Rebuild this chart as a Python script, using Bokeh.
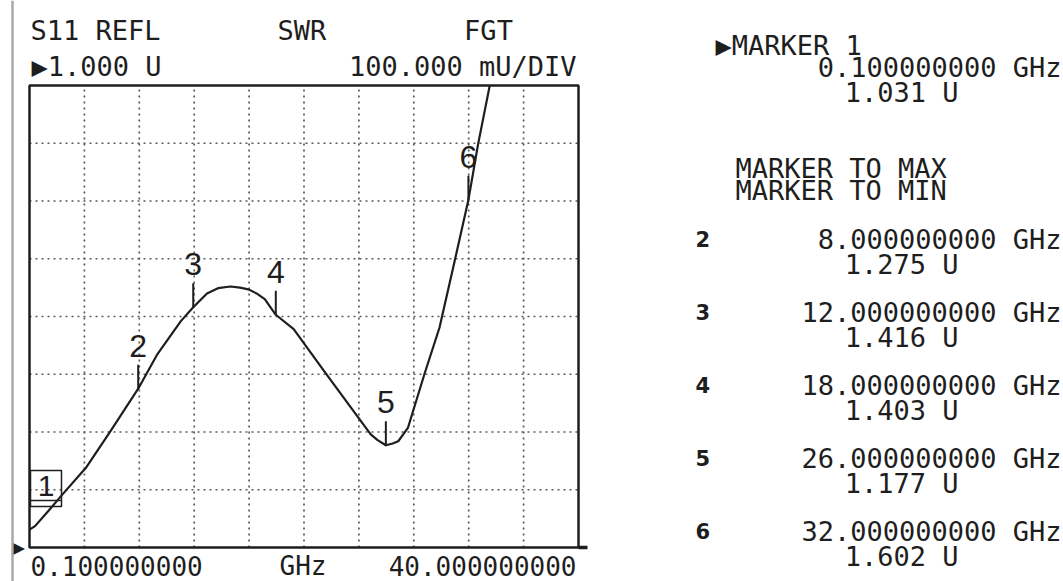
from bokeh.plotting import figure
from bokeh.models import Range1d, Label
from bokeh.core.properties import value
from bokeh.embed import file_html
from bokeh.resources import INLINE

freq_ghz = [0.1, 0.5, 1.5, 2.5, 4.2, 6.0, 8.0, 9.4, 11.1, 12.0, 13.0, 13.8,
            14.7, 15.4, 16.0, 16.6, 17.2, 18.0, 19.3, 21.5, 24.0, 24.9, 25.4,
            26.0, 26.5, 26.9, 27.6, 28.8, 29.9, 31.0, 32.0, 32.7, 33.55]
swr_u = [1.031, 1.037, 1.064, 1.092, 1.138, 1.202, 1.275, 1.335, 1.392, 1.416,
         1.440, 1.449, 1.452, 1.450, 1.447, 1.440, 1.430, 1.403, 1.378, 1.306,
         1.225, 1.196, 1.186, 1.177, 1.180, 1.184, 1.207, 1.300, 1.381, 1.496,
         1.602, 1.698, 1.800]

marker_ids = ["1", "2", "3", "4", "5", "6"]
marker_freq = [0.1, 8.0, 12.0, 18.0, 26.0, 32.0]
marker_swr = [1.031, 1.275, 1.416, 1.403, 1.177, 1.602]

start_ghz, stop_ghz = 0.1, 40.0
ref_u, u_per_div = 1.0, 0.1
n_xdiv, n_ydiv = 10, 8

header_left = ["S11 REFL", "SWR", "FGT"]
ref_text = "\u25b61.000 U"
scale_text = "100.000 mU/DIV"
start_text, unit_text, stop_text = "0.100000000", "GHz", "40.000000000"
panel_title = "\u25b6MARKER 1"
panel_funcs = ["MARKER TO MAX", "MARKER TO MIN"]

# ---------------- layout (reference pixel geometry) ----------------
W, H, M = 1063, 581, 0
FL, FR, FT, FB = 29, 578, 85, 547          # graticule box in page pixels
top_u = ref_u + u_per_div * n_ydiv
gpp = (stop_ghz - start_ghz) / (FR - FL)   # GHz per pixel
upp = (top_u - ref_u) / (FB - FT)          # U per pixel


def X(px):
    return start_ghz + (px - FL) * gpp


def Y(py):
    return ref_u + (FB - py) * upp


INK = "#1e1e1e"
GRID = "#5a5a5a"
MONO = "DejaVu Sans Mono"

p = figure(width=W, height=H, title=None,
           x_range=Range1d(X(M), X(M + W)), y_range=Range1d(Y(M + H), Y(M)),
           x_axis_location=None, y_axis_location=None,
           toolbar_location=None, output_backend="svg", min_border=0)
p.xgrid.visible = False
p.ygrid.visible = False
p.outline_line_color = None
p.background_fill_color = "white"
p.border_fill_color = "white"

# graticule (dotted divisions)
x_div = [start_ghz + k * (stop_ghz - start_ghz) / n_xdiv for k in range(1, n_xdiv)]
y_div = [ref_u + k * u_per_div for k in range(1, n_ydiv)]
p.segment(x0=x_div, y0=[ref_u] * len(x_div), x1=x_div, y1=[top_u] * len(x_div),
          line_color=GRID, line_width=1.7, line_dash="2 4")
p.segment(x0=[start_ghz] * len(y_div), y0=y_div, x1=[stop_ghz] * len(y_div), y1=y_div,
          line_color=GRID, line_width=1.7, line_dash="2 4")

# graticule border
p.quad(left=[start_ghz], right=[stop_ghz], bottom=[ref_u], top=[top_u],
       fill_color=None, line_color=INK, line_width=2.5)
# bottom line stub past the right edge
p.segment(x0=[stop_ghz], y0=[ref_u], x1=[stop_ghz + 9 * gpp], y1=[ref_u],
          line_color=INK, line_width=3.5)
# bezel line at the left of the screen
p.segment(x0=[X(12)], y0=[Y(M + H)], x1=[X(12)], y1=[Y(M)],
          line_color="#a8a8a8", line_width=2.5)

# trace
p.line(freq_ghz, swr_u, line_color=INK, line_width=2.2, line_join="round")

# markers 2..6 : tick + number
p.ray(x=marker_freq[1:], y=marker_swr[1:], length=24, length_units="screen",
      angle=90, angle_units="deg", line_color=INK, line_width=2)
p.text(x=marker_freq[1:], y=marker_swr[1:], text=marker_ids[1:],
       y_offset=-43, text_align="center", text_baseline="middle",
       text_font=value("Liberation Sans"), text_font_size="32px", text_color=INK)

# active marker 1 : boxed number
p.rect(x=[marker_freq[0] + 16.5 * gpp], y=[marker_swr[0] + 41 * upp],
       width=31, height=36, width_units="screen", height_units="screen",
       fill_color=None, line_color=INK, line_width=1.5)
p.segment(x0=[marker_freq[0] + 1 * gpp], y0=[marker_swr[0] + 29 * upp],
          x1=[marker_freq[0] + 32 * gpp], y1=[marker_swr[0] + 29 * upp],
          line_color=INK, line_width=1.5)
p.text(x=[marker_freq[0]], y=[marker_swr[0]], text=[marker_ids[0]],
       x_offset=16.5, y_offset=-44, text_align="center", text_baseline="middle",
       text_font=value("Liberation Sans"), text_font_size="30px", text_color=INK)


def lab(px, py, text, size="27px", align="left", font=MONO, style="normal",
        baseline="middle", color=INK):
    p.add_layout(Label(x=X(px), y=Y(py), text=text, text_font=font,
                       text_font_size=size, text_align=align,
                       text_baseline=baseline, text_font_style=style,
                       text_color=color))


# header
lab(30, 29.5, header_left[0])
lab(277, 29.5, header_left[1])
lab(488, 29.5, header_left[2], align="center")
lab(31, 66, ref_text)
lab(576, 66, scale_text, align="right")

# reference level arrow
lab(13, 547, "\u25b6", size="15px", font="DejaVu Sans")

# bottom annotation
lab(30, 565.5, start_text, size="26px")
lab(279, 565.5, unit_text, size="26px")
lab(576, 565.5, stop_text, size="26px", align="right")

# right-hand marker panel
lab(715, 44.5, panel_title)
lab(1061, 67, f"{marker_freq[0]:.9f} GHz", align="right")
lab(958, 92, f"{marker_swr[0]:.3f} U", align="right")
lab(735, 168, panel_funcs[0])
lab(735, 190, panel_funcs[1])
for i in range(1, len(marker_ids)):
    c = 238.5 + (i - 1) * 73
    lab(695, c, marker_ids[i], size="21px", font="DejaVu Sans", style="bold")
    lab(1061, c, f"{marker_freq[i]:.9f} GHz", align="right")
    lab(958, c + 25, f"{marker_swr[i]:.3f} U", align="right")

open("out.html", "w").write(file_html(p, INLINE))
